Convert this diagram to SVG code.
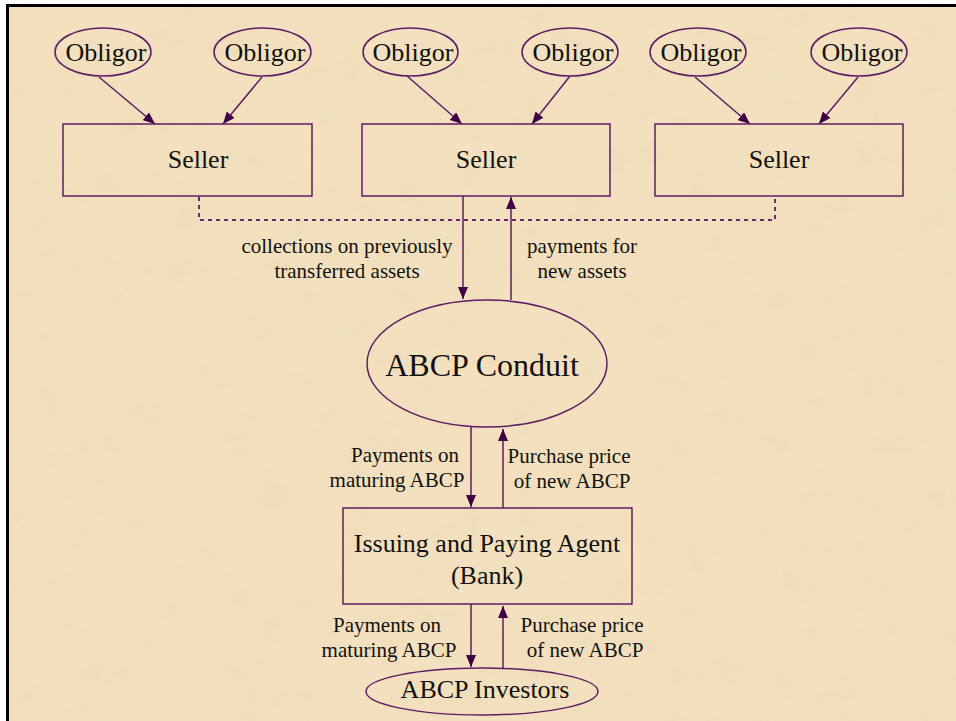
<svg xmlns="http://www.w3.org/2000/svg" width="956" height="721" viewBox="0 0 956 721">
  <defs>
    <style>
      .node { fill: none; stroke: #5e1d62; stroke-width: 1.5; }
      .big { font-family: 'Liberation Serif', 'DejaVu Serif', serif; font-size: 26px; fill: #111; text-anchor: middle; }
      .huge { font-family: 'Liberation Serif', 'DejaVu Serif', serif; font-size: 32px; fill: #111; text-anchor: middle; }
      .lbl { font-family: 'Liberation Serif', 'DejaVu Serif', serif; font-size: 21px; fill: #111; text-anchor: middle; }
      .edge { fill: none; stroke: #5e1d62; stroke-width: 1.5; }
      .dash { fill: none; stroke: #6a2a6e; stroke-width: 2; stroke-dasharray: 4 4; }
    </style>
    <marker id="ah" viewBox="0 0 12 10" refX="12" refY="5" markerWidth="12" markerHeight="10" markerUnits="userSpaceOnUse" orient="auto">
      <path d="M0,0 L12,5 L0,10 Z" fill="#3f0046"/>
    </marker>
    <filter id="tex" x="0" y="0" width="100%" height="100%">
      <feTurbulence type="fractalNoise" baseFrequency="0.035" numOctaves="4" seed="7" result="n"/>
      <feColorMatrix in="n" type="matrix" values="0 0 0 0 0.6  0 0 0 0 0.48  0 0 0 0 0.3  0 0 0 1.0 -0.45" result="m"/>
      <feComposite in="m" in2="SourceGraphic" operator="in"/>
    </filter>
  </defs>

  <rect x="0" y="0" width="956" height="721" fill="#ffffff"/>
  <rect x="7.5" y="5.5" width="1000" height="1000" fill="#F2E0BE" stroke="#000" stroke-width="3"/>
  <rect x="9" y="7" width="947" height="714" fill="#F2E0BE" filter="url(#tex)" opacity="0.22"/>

  <g id="connectors">
    <line class="edge" x1="99" y1="77" x2="155" y2="124" marker-end="url(#ah)"/>
    <line class="edge" x1="262" y1="77" x2="223" y2="124" marker-end="url(#ah)"/>
    <line class="edge" x1="407" y1="76" x2="462" y2="124" marker-end="url(#ah)"/>
    <line class="edge" x1="570" y1="76" x2="532" y2="124" marker-end="url(#ah)"/>
    <line class="edge" x1="695" y1="77" x2="750" y2="124" marker-end="url(#ah)"/>
    <line class="edge" x1="858" y1="77" x2="819" y2="124" marker-end="url(#ah)"/>
    <polyline class="dash" points="199,197 199,220 775,220 775,197"/>
    <line class="edge" x1="463" y1="196" x2="463" y2="299" marker-end="url(#ah)"/>
    <line class="edge" x1="511" y1="300" x2="511" y2="197" marker-end="url(#ah)"/>
    <line class="edge" x1="471" y1="427" x2="471" y2="507" marker-end="url(#ah)"/>
    <line class="edge" x1="503" y1="508" x2="503" y2="429" marker-end="url(#ah)"/>
    <line class="edge" x1="471" y1="604" x2="471" y2="667" marker-end="url(#ah)"/>
    <line class="edge" x1="503" y1="668" x2="503" y2="606" marker-end="url(#ah)"/>
    <text class="lbl" x="347" y="253">collections on previously</text>
    <text class="lbl" x="347" y="278">transferred assets</text>
    <text class="lbl" x="582" y="253">payments for</text>
    <text class="lbl" x="582" y="278">new assets</text>
    <text class="lbl" x="405" y="462">Payments on</text>
    <text class="lbl" x="397" y="487">maturing ABCP</text>
    <text class="lbl" x="569" y="463">Purchase price</text>
    <text class="lbl" x="572" y="488">of new ABCP</text>
    <text class="lbl" x="387" y="632">Payments on</text>
    <text class="lbl" x="389" y="657">maturing ABCP</text>
    <text class="lbl" x="582" y="632">Purchase price</text>
    <text class="lbl" x="585" y="657">of new ABCP</text>
  </g>

  <g id="obligor1"><ellipse class="node" cx="103" cy="52" rx="48" ry="24"/><text class="big" x="106" y="61">Obligor</text></g>
  <g id="obligor2"><ellipse class="node" cx="262.5" cy="52" rx="48.5" ry="24"/><text class="big" x="265" y="61">Obligor</text></g>
  <g id="obligor3"><ellipse class="node" cx="410.5" cy="52" rx="47.5" ry="24"/><text class="big" x="413" y="61">Obligor</text></g>
  <g id="obligor4"><ellipse class="node" cx="570" cy="52" rx="48" ry="24"/><text class="big" x="573" y="61">Obligor</text></g>
  <g id="obligor5"><ellipse class="node" cx="698" cy="52" rx="48" ry="24"/><text class="big" x="701" y="61">Obligor</text></g>
  <g id="obligor6"><ellipse class="node" cx="859" cy="52" rx="48" ry="24"/><text class="big" x="862" y="61">Obligor</text></g>

  <g id="seller1"><rect class="node" x="63" y="124" width="249" height="72"/><text class="big" x="198" y="168">Seller</text></g>
  <g id="seller2"><rect class="node" x="362" y="124" width="248" height="72"/><text class="big" x="486" y="168">Seller</text></g>
  <g id="seller3"><rect class="node" x="655" y="124" width="248" height="72"/><text class="big" x="779" y="168">Seller</text></g>

  <g id="conduit"><ellipse class="node" cx="487" cy="363.5" rx="120" ry="63.5"/><text class="huge" x="482" y="376">ABCP Conduit</text></g>

  <g id="agent"><rect class="node" x="343" y="508" width="289" height="96"/><text class="big" x="487" y="552">Issuing and Paying Agent</text><text class="big" x="487" y="584">(Bank)</text></g>

  <g id="investors"><ellipse class="node" cx="482" cy="691.5" rx="116" ry="23.5"/><text class="big" x="485" y="698">ABCP Investors</text></g>
</svg>
